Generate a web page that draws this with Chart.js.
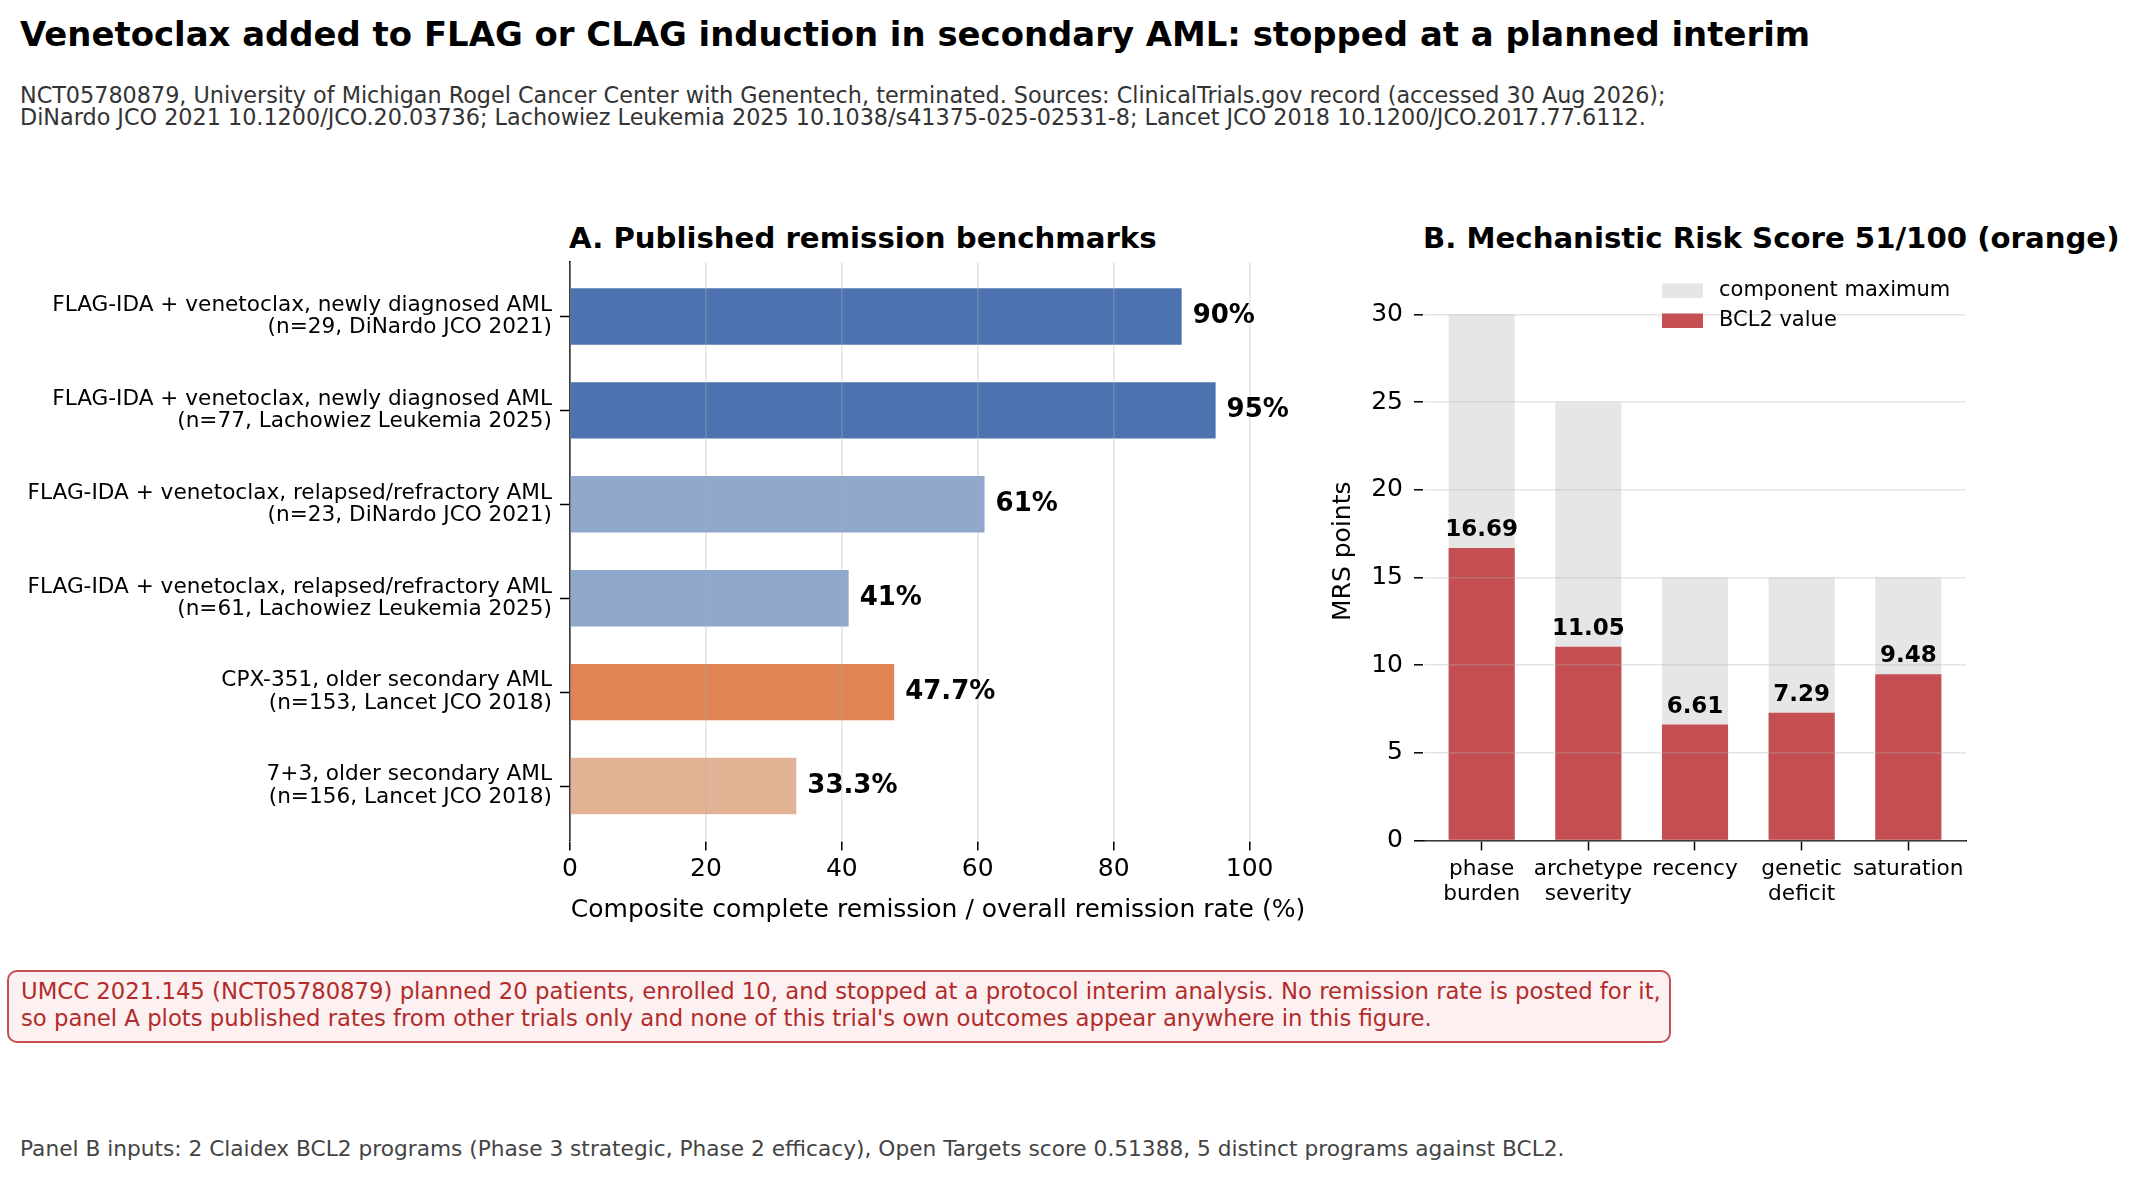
<!DOCTYPE html>
<html>
<head>
<meta charset="utf-8">
<title>Venetoclax added to FLAG or CLAG induction in secondary AML</title>
<script src="https://cdn.jsdelivr.net/npm/chart.js@4.4.1/dist/chart.umd.min.js"></script>
<style>
body { margin:0; background:#fff; font-family:"DejaVu Sans", sans-serif; }
#page { position:relative; width:2138px; height:1180px; overflow:hidden; background:#fff; }
.txt { position:absolute; white-space:nowrap; }
canvas { position:absolute; clip-path:inset(3px 3px 3px 3px); }
#title { left:20px; top:15px; font-size:33.9px; line-height:40px; font-weight:bold; color:#000; }
#subtitle { left:20px; top:84px; font-size:22.3px; line-height:22px; color:#333; }
.ptitle { top:221px; font-size:29.2px; line-height:34px; font-weight:bold; color:#000; }
#note { position:absolute; left:7px; top:970px; width:1664px; height:73px; box-sizing:border-box;
        border:2px solid #c44e52; border-radius:10px; background:#fcf0f0; }
#notetext { left:12px; top:6px; font-size:22.75px; line-height:27px; color:#b22c2c; }
#footer { left:20px; top:1136px; font-size:21.7px; line-height:26px; color:#444; }
</style>
</head>
<body>
<div id="page">
  <div class="txt" id="title">Venetoclax added to FLAG or CLAG induction in secondary AML: stopped at a planned interim</div>
  <div class="txt" id="subtitle">NCT05780879, University of Michigan Rogel Cancer Center with Genentech, terminated. Sources: ClinicalTrials.gov record (accessed 30 Aug 2026);<br>DiNardo JCO 2021 10.1200/JCO.20.03736; Lachowiez Leukemia 2025 10.1038/s41375-025-02531-8; Lancet JCO 2018 10.1200/JCO.2017.77.6112.</div>
  <div class="txt ptitle" style="left:569px;">A. Published remission benchmarks</div>
  <div class="txt ptitle" style="left:1423px;">B. Mechanistic Risk Score 51/100 (orange)</div>
  <canvas id="chartA" width="1330" height="725" style="left:0px; top:200px; width:1330px; height:725px;"></canvas>
  <canvas id="chartB" width="810" height="725" style="left:1328px; top:200px; width:810px; height:725px;"></canvas>
  <div id="note"><div class="txt" id="notetext">UMCC 2021.145 (NCT05780879) planned 20 patients, enrolled 10, and stopped at a protocol interim analysis. No remission rate is posted for it,<br>so panel A plots published rates from other trials only and none of this trial's own outcomes appear anywhere in this figure.</div></div>
  <div class="txt" id="footer">Panel B inputs: 2 Claidex BCL2 programs (Phase 3 strategic, Phase 2 efficacy), Open Targets score 0.51388, 5 distinct programs against BCL2.</div>
</div>
<script>
// panel A data
var benchLabels = [
    ['FLAG-IDA + venetoclax, newly diagnosed AML', '(n=29, DiNardo JCO 2021)'],
    ['FLAG-IDA + venetoclax, newly diagnosed AML', '(n=77, Lachowiez Leukemia 2025)'],
    ['FLAG-IDA + venetoclax, relapsed/refractory AML', '(n=23, DiNardo JCO 2021)'],
    ['FLAG-IDA + venetoclax, relapsed/refractory AML', '(n=61, Lachowiez Leukemia 2025)'],
    ['CPX-351, older secondary AML', '(n=153, Lancet JCO 2018)'],
    ['7+3, older secondary AML', '(n=156, Lancet JCO 2018)']
];
var benchRates = [90, 95, 61, 41, 47.7, 33.3];
var rateTicks = [0, 20, 40, 60, 80, 100];

// panel B data
var mrsComponents = [['phase', 'burden'], ['archetype', 'severity'], 'recency', ['genetic', 'deficit'], 'saturation'];
var mrsMax = [30, 25, 15, 15, 15];
var mrsValue = [16.69, 11.05, 6.61, 7.29, 9.48];
var mrsTicks = [0, 5, 10, 15, 20, 25, 30];

var benchColors = ['#4c72b0', '#4c72b0', '#8fa8cb', '#8fa8cb', '#df8452', '#e1b394'];
var red = '#c44e52';
var grey = '#e6e6e6';
var gridColor = 'rgba(176,176,176,0.33)';

Chart.defaults.font.family = '"DejaVu Sans", sans-serif';
Chart.defaults.color = '#000';

// value text at the end of each horizontal bar
var rateLabels = {
    id: 'rateLabels',
    afterDraw: function(chart) {
        var ctx = chart.ctx;
        var meta = chart.getDatasetMeta(0);
        ctx.save();
        ctx.font = 'bold 26px "DejaVu Sans"';
        ctx.fillStyle = '#000';
        ctx.textAlign = 'left';
        ctx.textBaseline = 'middle';
        meta.data.forEach(function(bar, i) {
            ctx.fillText(benchRates[i] + '%', bar.x + 11, bar.y);
        });
        ctx.restore();
    }
};

// value text above the red bars + legend
var mrsLabels = {
    id: 'mrsLabels',
    afterDraw: function(chart) {
        var ctx = chart.ctx;
        var meta = chart.getDatasetMeta(0);
        ctx.save();
        ctx.font = 'bold 23px "DejaVu Sans"';
        ctx.fillStyle = '#000';
        ctx.textAlign = 'center';
        ctx.textBaseline = 'alphabetic';
        meta.data.forEach(function(bar, i) {
            ctx.fillText(mrsValue[i].toFixed(2), bar.x, bar.y - 12);
        });
        // legend
        var a = chart.chartArea;
        var lx = a.left + 238;
        ctx.font = '21px "DejaVu Sans"';
        ctx.textAlign = 'left';
        ctx.textBaseline = 'middle';
        ctx.fillStyle = grey;
        ctx.fillRect(lx, a.top + 21.5, 41, 14.5);
        ctx.fillStyle = red;
        ctx.fillRect(lx, a.top + 51.5, 41, 14.5);
        ctx.fillStyle = '#000';
        ctx.fillText('component maximum', lx + 57, a.top + 29);
        ctx.fillText('BCL2 value', lx + 57, a.top + 59);
        ctx.restore();
    }
};

// index axes only show tick marks
var tickOnlyGrid = {display: true, offset: false, drawOnChartArea: false, color: 'rgba(0,0,0,0)',
                    tickColor: '#000', tickLength: 10, tickWidth: 1.5};

var chartA = new Chart(document.getElementById('chartA'), {
    type: 'bar',
    data: {
        datasets: [{
            data: benchRates.map(function(v, i) { return {x: v, y: i}; }),
            backgroundColor: benchColors,
            grouped: false,
            categoryPercentage: 1,
            barPercentage: 0.6
        }]
    },
    options: {
        indexAxis: 'y',
        responsive: false,
        animation: false,
        devicePixelRatio: 1,
        layout: {padding: {top: 62, right: 24, left: 0, bottom: 0}},
        plugins: {legend: {display: false}, tooltip: {enabled: false}},
        scales: {
            x: {
                type: 'linear', min: 0, max: 108.3,
                afterBuildTicks: function(s) { s.ticks = rateTicks.map(function(v) { return {value: v}; }); },
                afterFit: function(s) { s.height = 84.5; },
                grid: {color: gridColor, lineWidth: 1.6, z: 1, tickColor: '#000', tickLength: 10, tickWidth: 1.5},
                border: {color: '#000', width: 1.6},
                ticks: {font: {size: 25}, padding: 4, color: '#000'},
                title: {display: true, text: 'Composite complete remission / overall remission rate (%)', font: {size: 25}, padding: 0, color: '#000'}
            },
            y: {
                type: 'linear', reverse: true, min: -0.58, max: 5.58, offset: false,
                afterBuildTicks: function(s) { s.ticks = benchLabels.map(function(l, i) { return {value: i}; }); },
                afterFit: function(s) { s.width = 570; },
                grid: tickOnlyGrid,
                border: {color: '#000', width: 1.6},
                ticks: {
                    font: {size: 21.6, lineHeight: 1.04}, padding: 8, color: '#000',
                    callback: function(v) { return benchLabels[v]; }
                }
            }
        }
    },
    plugins: [rateLabels]
});

var chartB = new Chart(document.getElementById('chartB'), {
    type: 'bar',
    data: {
        datasets: [{
            label: 'BCL2 value',
            data: mrsValue.map(function(v, i) { return {x: i, y: v}; }),
            backgroundColor: red,
            order: 0, grouped: false, categoryPercentage: 1, barPercentage: 0.62
        }, {
            label: 'component maximum',
            data: mrsMax.map(function(v, i) { return {x: i, y: v}; }),
            backgroundColor: grey,
            order: 1, grouped: false, categoryPercentage: 1, barPercentage: 0.62
        }]
    },
    options: {
        responsive: false,
        animation: false,
        devicePixelRatio: 1,
        layout: {padding: {top: 62, right: 172, left: 0, bottom: 0}},
        plugins: {legend: {display: false}, tooltip: {enabled: false}},
        scales: {
            x: {
                type: 'linear', min: -0.541, max: 4.541, offset: false,
                afterBuildTicks: function(s) { s.ticks = mrsComponents.map(function(c, i) { return {value: i}; }); },
                afterFit: function(s) { s.height = 84.5; },
                grid: tickOnlyGrid,
                border: {color: '#000', width: 1.6},
                ticks: {
                    font: {size: 21.7, lineHeight: 1.15}, padding: 6, color: '#000', maxRotation: 0, autoSkip: false,
                    callback: function(v) { return mrsComponents[v]; }
                }
            },
            y: {
                min: 0, max: 33,
                afterBuildTicks: function(s) { s.ticks = mrsTicks.map(function(v) { return {value: v}; }); },
                afterFit: function(s) { s.width = 96; },
                grid: {color: gridColor, lineWidth: 1.6, z: 1, tickColor: '#000', tickLength: 10, tickWidth: 1.5},
                border: {color: '#000', width: 1.6},
                ticks: {font: {size: 25}, padding: 11, color: '#000'},
                title: {display: true, text: 'MRS points', font: {size: 25}, padding: 0, color: '#000'}
            }
        }
    },
    plugins: [mrsLabels]
});
</script>
</body>
</html>
